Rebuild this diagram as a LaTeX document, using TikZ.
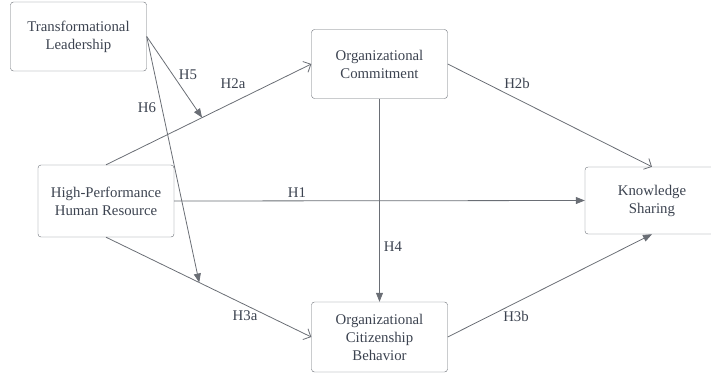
\documentclass[tikz,border=0pt]{standalone}
\usepackage{fontspec}
\setmainfont{Liberation Serif}
\newfontfamily\boxfont{Liberation Serif}
\usetikzlibrary{arrows.meta}

\definecolor{txtgray}{HTML}{3C4350}
\definecolor{linegray}{HTML}{6A6E75}

\begin{document}
\begin{tikzpicture}[x=1pt,y=-1pt,
  font=\boxfont\fontsize{14.8}{18}\selectfont,
  box/.style={draw=linegray, rounded corners=3pt, align=center, text=txtgray,
    minimum width=136, minimum height=69, inner sep=0pt},
  lbl/.style={text=txtgray, inner sep=0pt},
  link/.style={draw=linegray, line width=0.8pt},
  solidtip/.style={link, -{Triangle[length=9pt,width=7pt]}},
  opentip/.style={link, -{Straight Barb[length=6pt,width=12pt]}}]
  \useasboundingbox (0,0) rectangle (711,373);
  \clip (0,0) rectangle (711,373);

  \node[box] (tl) at (78.5,36.5) {Transformational\\Leadership};
  \node[box, minimum height=72] (hr) at (106,201) {High-Performance\\Human Resource};
  \node[box] (oc) at (379.5,64) {Organizational\\Commitment};
  \node[box, minimum height=70] (ocb) at (379.5,337) {Organizational\\Citizenship\\Behavior};
  \node[box, minimum width=134, minimum height=67] (ks) at (652,200.5) {Knowledge\\Sharing};

  \draw[opentip] (hr.north) -- (oc.west) coordinate[pos=0.468] (m5);
  \draw[opentip] (hr.south) -- (ocb.west) coordinate[pos=0.454] (m6);
  \draw[solidtip] (hr.east) -- (ks.west);
  \draw[opentip] (oc.east) -- (ks.north);
  \draw[solidtip] (ocb.east) -- (ks.south);
  \draw[solidtip] (oc.south) -- (ocb.north);
  \draw[solidtip] (tl.east) -- (m5);
  \draw[solidtip] (tl.east) -- (m6);

  \node[lbl] (h1) at (297,193) {H1};
  \node[lbl] (h2a) at (233,84) {H2a};
  \node[lbl] (h2b) at (517,83) {H2b};
  \node[lbl] (h3a) at (245,316) {H3a};
  \node[lbl] (h3b) at (516,316) {H3b};
  \node[lbl] (h4) at (393,247) {H4};
  \node[lbl] (h5) at (188,75) {H5};
  \node[lbl] (h6) at (147,108) {H6};
\end{tikzpicture}
\end{document}
